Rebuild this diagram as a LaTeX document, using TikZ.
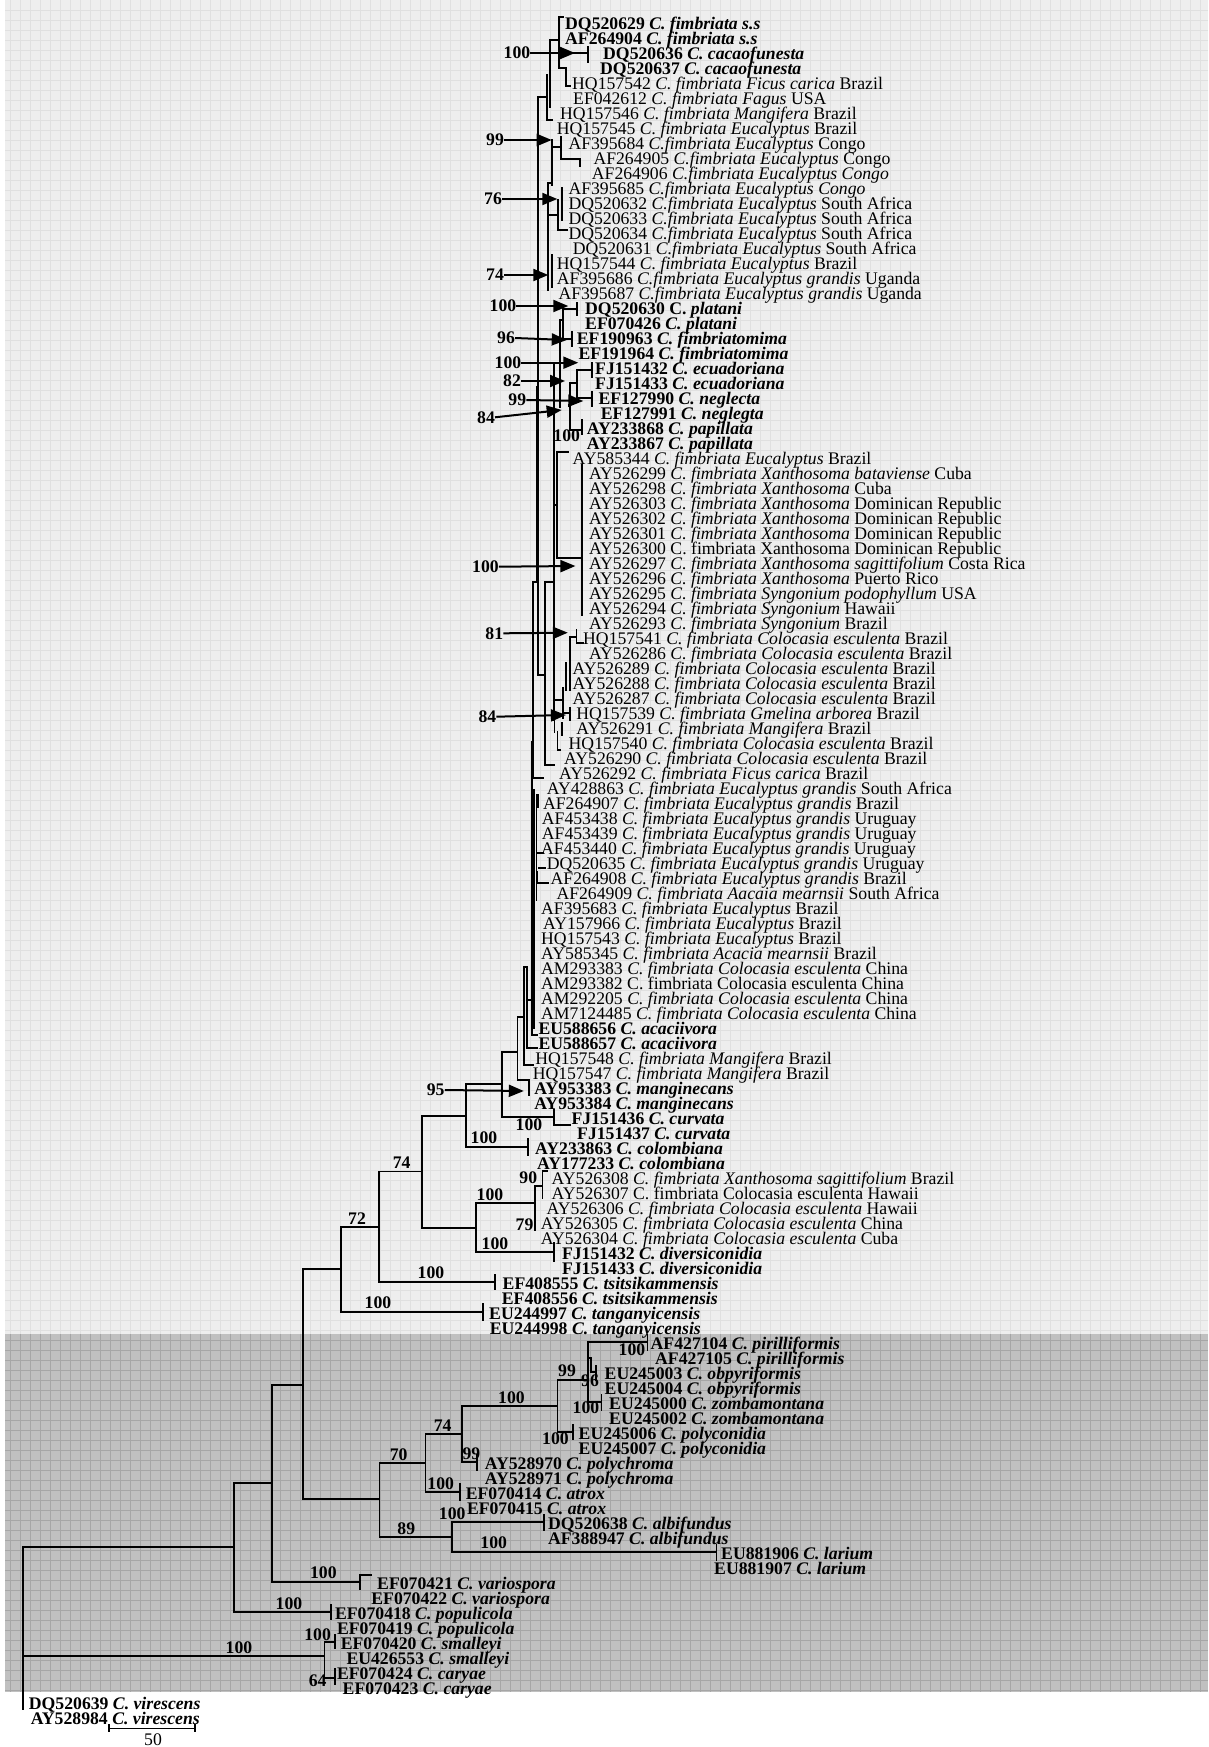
\documentclass[tikz,border=0pt]{standalone}
\usepackage{fontspec}
\setmainfont{Liberation Serif}
\usetikzlibrary{arrows.meta}

\definecolor{lightbg}{RGB}{238,238,238}
\definecolor{lightgrid}{RGB}{224,224,224}
\definecolor{darkbg}{RGB}{192,192,192}
\definecolor{darkgrid}{RGB}{166,166,166}

\newcommand{\tf}{\fontsize{17.7}{18}\selectfont}
\newcommand{\tipr}[3]{\node[leaf] (r#1) at (#2,{23.4+15*#1}) {#3};}
\newcommand{\tipb}[3]{\node[leaf,font={\tf\bfseries}] (r#1) at (#2,{23.4+15*#1}) {#3};}

\tikzset{
  leaf/.style={anchor=west, inner sep=0pt, text height=11.7pt, text depth=0pt, font=\tf},
  bs/.style={inner sep=0pt, text height=11.7pt, text depth=0pt, font={\tf\bfseries}},
  br/.style={line width=1.7pt, line cap=rect},
  arr/.style={line width=2pt, -{Triangle[length=15pt,width=12pt]}},
  lgrid/.style={draw=lightgrid, line width=0.6pt},
  dgrid/.style={draw=darkgrid, line width=0.6pt}
}

\begin{document}
\begin{tikzpicture}[x=1pt, y=-1pt]
\useasboundingbox (0,0) rectangle (1208,1747);

% background panels
\fill[lightbg] (5,0) rectangle (1208,1334);
\foreach \gx in {10,20,...,1200} \draw[lgrid] (\gx,0) -- (\gx,1334);
\foreach \gy in {10,20,...,1330} \draw[lgrid] (5,\gy) -- (1208,\gy);
\fill[darkbg] (5,1334) rectangle (1208,1692);
\foreach \gx in {10,20,...,1200} \draw[dgrid] (\gx,1334) -- (\gx,1692);
\foreach \gy in {1340,1350,...,1690} \draw[dgrid] (5,\gy) -- (1208,\gy);

% backbone
\draw[br] (23,1547.3)--(23,1709) (23,1547.3)--(234,1547.3) (23,1656)--(324.5,1656);
\draw[br] (234,1483.3)--(234,1611.7) (234,1483.3)--(272.3,1483.3) (234,1611.7)--(331,1611.7);
\draw[br] (272.3,1385)--(272.3,1581.7) (272.3,1385)--(302.7,1385) (272.3,1581.7)--(359.7,1581.7);
\draw[br] (302.7,1269)--(302.7,1499) (302.7,1269)--(340.7,1269) (302.7,1499)--(379.5,1499);
\draw[br] (340.7,1227)--(340.7,1312) (340.7,1227)--(379.3,1227) (340.7,1312)--(483.3,1312);
\draw[br] (379.3,1171.5)--(379.3,1282) (379.3,1171.5)--(422.3,1171.5) (379.3,1282)--(495,1282);
\draw[br] (422.3,1116)--(422.3,1228) (422.3,1116)--(466,1116) (422.3,1228)--(475.7,1228);
\draw[br] (475.7,1203)--(475.7,1252) (475.7,1203)--(535,1203) (475.7,1252)--(554,1252);
\draw[br] (535,1186)--(535,1230) (535,1186)--(542.6,1186) (542.6,1171)--(542.6,1198) (542.6,1171)--(547,1171);
\draw[br] (466,1084)--(466,1147) (466,1084)--(501.7,1084) (466,1147)--(528.3,1147);
\draw[br] (501.7,1051.7)--(501.7,1117.3) (501.7,1051.7)--(517.5,1051.7) (501.7,1117.3)--(554,1117.3)
  (554,1110)--(554,1125)--(570,1125);
\draw[br] (517.5,1016.7)--(517.5,1080)--(529,1080) (517.5,1016.7)--(524,1016.7);
\draw[br] (483.3,1304)--(483.3,1320) (495,1275)--(495,1289) (554,1243)--(554,1261)
  (528.3,1139)--(528.3,1155) (529,1080)--(529,1095);

% outgroup clades
\draw[br] (331,1605)--(331,1619) (359.7,1575)--(359.7,1589) (359.7,1575)--(371,1575);
\draw[br] (324.5,1641.7)--(324.5,1678.3) (324.5,1641.7)--(335,1641.7) (335,1635)--(335,1648.3)
  (324.5,1678.3)--(335,1678.3) (335,1669)--(335,1684);
\draw[br] (379.5,1463.3)--(379.5,1536.7) (379.5,1463.3)--(425.4,1463.3) (379.5,1536.7)--(452.2,1536.7);
\draw[br] (425.4,1434.3)--(425.4,1491.7) (425.4,1434.3)--(461.8,1434.3) (425.4,1491.7)--(459.9,1491.7)
  (459.9,1484)--(459.9,1500);
\draw[br] (461.8,1405.7)--(461.8,1461.7) (461.8,1405.7)--(557.5,1405.7) (461.8,1461.7)--(477,1461.7)
  (477,1455)--(477,1470);
\draw[br] (557.5,1380)--(557.5,1431.7) (557.5,1380)--(588,1380) (557.5,1431.7)--(572.8,1431.7)
  (572.8,1425)--(572.8,1439);
\draw[br] (588,1341.7)--(588,1401.7) (588,1341.7)--(647.4,1341.7) (647.4,1335)--(647.4,1350)
  (588,1401.7)--(601.5,1401.7) (601.5,1395)--(601.5,1410)
  (591,1358)--(591,1372) (588,1358)--(591,1358) (591,1372)--(596,1372) (596,1366)--(596,1380);
\draw[br] (452.2,1521.7)--(452.2,1551.7) (452.2,1521.7)--(544,1521.7) (544,1515)--(544,1530)
  (452.2,1551.7)--(716.6,1551.7) (716.6,1545)--(716.6,1560);

% fimbriata complex
\draw[br] (538.3,96.7)--(538.3,675)--(545,675) (536.7,386.7)--(536.7,581.7) (533.3,581.7)--(536.7,581.7)
  (533.3,581.7)--(533.3,778.3)--(542.9,778.3) (531.7,741.7)--(533.3,741.7)
  (531.7,741.7)--(531.7,1035)--(537,1035) (534,790)--(534,1028) (536.4,795)--(536.4,900)
  (524,966.7)--(524,1065)--(533.3,1065) (524,966.7)--(526.7,966.7)
  (526.7,966.7)--(526.7,1048.3)--(537.2,1048.3) (526.7,1000)--(531.7,1000);
\draw[br] (537.9,795)--(537.9,806.7) (537,853.3)--(543,853.3) (539,868.3)--(544.8,868.3)
  (536.7,871.7)--(536.7,883.3)--(548.6,883.3);
\draw[br] (559.3,16.7)--(559.3,68.3) (559.3,16.7)--(563,16.7) (550,40)--(559.3,40)
  (559.3,53.3)--(588.3,53.3) (588.3,47)--(588.3,62)
  (559.3,68.3)--(565.7,68.3)--(565.7,86)--(570,86)
  (550,40)--(550,106.7) (547,75)--(547,120)--(552,120) (538.3,96.7)--(547,96.7);
\draw[br] (551.7,140)--(551.7,185) (551.7,146.7)--(560.7,146.7)
  (560.7,136.7)--(560.7,159.3)--(580,159.3)--(580,166)
  (548.3,183)--(548.3,290) (548.3,183)--(551.7,183)
  (561.7,188)--(561.7,220) (558.3,200)--(558.3,230)--(566.7,230) (548.3,215)--(558.3,215)
  (551.7,255)--(551.7,287);
\draw[br] (560,320)--(560,406.7) (560,320)--(563.3,320)
  (563.3,306)--(563.3,340) (563.3,309.3)--(576.7,309.3) (576.7,303)--(576.7,315)
  (563.3,339)--(571.7,339) (571.7,331.7)--(571.7,346)
  (576.7,370)--(576.7,398.3) (576.7,370)--(591.7,370) (591.7,363)--(591.7,377)
  (576.7,398.3)--(591.7,398.3) (591.7,392)--(591.7,406)
  (570,383.3)--(570,430) (570,383.3)--(576.7,383.3)
  (570,430)--(581.7,430) (581.7,420)--(581.7,434) (538.3,363)--(554,363);
\draw[br] (554,363)--(554,720) (554,505)--(557.3,505)
  (557.3,451.7)--(557.3,558.3) (557.3,451.7)--(567.8,451.7) (557.3,558.3)--(582.3,558.3)
  (582.3,465)--(582.3,615)
  (545,581.7)--(545,765)--(554.4,765) (545,581.7)--(554,581.7);
\draw[br] (576.6,630)--(576.6,643.3)--(583,643.3) (569.7,636.7)--(569.7,690) (569.7,636.7)--(576.6,636.7)
  (565.9,663.3)--(565.9,690) (563.2,688)--(563.2,718.3) (554,700)--(563.2,700)
  (569.7,708.3)--(569.7,720) (563.2,713)--(569.7,713)
  (562,723.3)--(562,735) (554.4,720)--(554.4,731.7) (557.4,731.7)--(557.4,750)--(560,750);

% bootstrap values
\node[bs] (s1) at (517,53) {100};
\node[bs] (s2) at (495,140) {99};
\node[bs] (s3) at (493,199) {76};
\node[bs] (s4) at (495,275) {74};
\node[bs] (s5) at (503,306) {100};
\node[bs] (s6) at (506,338) {96};
\node[bs] (s7) at (508,362.7) {100};
\node[bs] (s8) at (512,381) {82};
\node[bs] (s9) at (517.3,400) {99};
\node[bs] (s10) at (486,417.3) {84};
\node[bs] (s11) at (485.5,566.7) {100};
\node[bs] (s12) at (494.3,633.3) {81};
\node[bs] (s13) at (487.4,716.7) {84};
\node[bs] (s14) at (435.7,1090) {95};
\draw[arr] (s1.east) -- (575,53);
\draw[arr] (s2.east) -- (551.7,140);
\draw[arr] (s3.east) -- (557.3,199);
\draw[arr] (s4.east) -- (548.3,275);
\draw[arr] (s5.east) -- (568.3,306);
\draw[arr] (s6.east) -- (566.7,340);
\draw[arr] (s7.east) -- (578.3,362.7);
\draw[arr] (s8.east) -- (565,381);
\draw[arr] (s9.east) -- (583.3,401);
\draw[arr] (s10.east) -- (561.7,410);
\draw[arr] (s11.east) -- (575.4,566);
\draw[arr] (s12.east) -- (567.8,632.7);
\draw[arr] (s13.east) -- (565.9,715);
\draw[arr] (s14.east) -- (523.8,1091);

\node[bs] (s15) at (566.7,436) {100};
\node[bs] (s16) at (529,1125) {100};
\node[bs] (s17) at (484,1138) {100};
\node[bs] (s18) at (401.7,1163) {74};
\node[bs] (s19) at (357,1219) {72};
\node[bs] (s20) at (528.3,1178) {90};
\node[bs] (s21) at (490,1195) {100};
\node[bs] (s22) at (524.5,1225) {79};
\node[bs] (s23) at (495,1244) {100};
\node[bs] (s24) at (431,1273) {100};
\node[bs] (s25) at (378,1303) {100};
\node[bs] (s26) at (632,1350) {100};
\node[bs] (s27) at (567,1370.7) {99};
\node[bs] (s28) at (590,1381) {96};
\node[bs] (s29) at (511.5,1397.3) {100};
\node[bs] (s30) at (586,1408) {100};
\node[bs] (s31) at (442.6,1426) {74};
\node[bs] (s32) at (555.5,1438.3) {100};
\node[bs] (s33) at (471.4,1453.3) {99};
\node[bs] (s34) at (398.6,1455) {70};
\node[bs] (s35) at (440.7,1483.3) {100};
\node[bs] (s36) at (452.2,1513.3) {100};
\node[bs] (s37) at (406.3,1528.3) {89};
\node[bs] (s38) at (493.7,1543) {100};
\node[bs] (s39) at (323.4,1572.7) {100};
\node[bs] (s40) at (289,1604) {100};
\node[bs] (s41) at (317.6,1635) {100};
\node[bs] (s42) at (239,1647.5) {100};
\node[bs] (s43) at (317.6,1681) {64};

% scale bar
\draw[line width=1.5pt] (109,1724)--(109,1732) (109,1728.3)--(195.2,1728.3) (195.2,1724)--(195.2,1732);
\node[leaf, anchor=center] (scl) at (153,1740) {50};

% taxa
\tipb{0}{565}{DQ520629 \textit{C. fimbriata s.s}}
\tipb{1}{565}{AF264904 \textit{C. fimbriata s.s}}
\tipb{2}{603}{DQ520636 \textit{C. cacaofunesta}}
\tipb{3}{600}{DQ520637 \textit{C. cacaofunesta}}
\tipr{4}{572}{HQ157542 \textit{C. fimbriata Ficus carica} Brazil}
\tipr{5}{573}{EF042612 \textit{C. fimbriata Fagus} USA}
\tipr{6}{560}{HQ157546 \textit{C. fimbriata Mangifera} Brazil}
\tipr{7}{556.7}{HQ157545 \textit{C. fimbriata Eucalyptus} Brazil}
\tipr{8}{568.3}{AF395684 \textit{C.fimbriata Eucalyptus} Congo}
\tipr{9}{593.3}{AF264905 \textit{C.fimbriata Eucalyptus} Congo}
\tipr{10}{591.7}{AF264906 \textit{C.fimbriata Eucalyptus Congo}}
\tipr{11}{568.3}{AF395685 \textit{C.fimbriata Eucalyptus Congo}}
\tipr{12}{568.3}{DQ520632 \textit{C.fimbriata Eucalyptus} South Africa}
\tipr{13}{568.3}{DQ520633 \textit{C.fimbriata Eucalyptus} South Africa}
\tipr{14}{568.3}{DQ520634 \textit{C.fimbriata Eucalyptus} South Africa}
\tipr{15}{572.7}{DQ520631 \textit{C.fimbriata Eucalyptus} South Africa}
\tipr{16}{556.7}{HQ157544 \textit{C. fimbriata Eucalyptus} Brazil}
\tipr{17}{556.7}{AF395686 \textit{C.fimbriata Eucalyptus grandis} Uganda}
\tipr{18}{558.3}{AF395687 \textit{C.fimbriata Eucalyptus grandis} Uganda}
\tipb{19}{585}{DQ520630 C. \textit{platani}}
\tipb{20}{585}{EF070426 \textit{C. platani}}
\tipb{21}{576.7}{EF190963 \textit{C. fimbriatomima}}
\tipb{22}{578.3}{EF191964 \textit{C. fimbriatomima}}
\tipb{23}{595}{FJ151432 \textit{C. ecuadoriana}}
\tipb{24}{595}{FJ151433 \textit{C. ecuadoriana}}
\tipb{25}{598.3}{EF127990 \textit{C. neglecta}}
\tipb{26}{600.7}{EF127991 \textit{C. neglegta}}
\tipb{27}{586.7}{AY233868 \textit{C. papillata}}
\tipb{28}{586.7}{AY233867 \textit{C. papillata}}
\tipr{29}{572.4}{AY585344 \textit{C. fimbriata Eucalyptus} Brazil}
\tipr{30}{588.8}{AY526299 \textit{C. fimbriata Xanthosoma bataviense} Cuba}
\tipr{31}{588.8}{AY526298 \textit{C. fimbriata Xanthosoma} Cuba}
\tipr{32}{588.8}{AY526303 \textit{C. fimbriata Xanthosoma} Dominican Republic}
\tipr{33}{588.8}{AY526302 \textit{C. fimbriata Xanthosoma} Dominican Republic}
\tipr{34}{588.8}{AY526301 \textit{C. fimbriata Xanthosoma} Dominican Republic}
\tipr{35}{588.8}{AY526300 C. fimbriata Xanthosoma Dominican Republic}
\tipr{36}{588.8}{AY526297 \textit{C. fimbriata Xanthosoma sagittifolium} Costa Rica}
\tipr{37}{588.8}{AY526296 \textit{C. fimbriata Xanthosoma} Puerto Rico}
\tipr{38}{588.8}{AY526295 \textit{C. fimbriata Syngonium podophyllum} USA}
\tipr{39}{588.8}{AY526294 \textit{C. fimbriata Syngonium} Hawaii}
\tipr{40}{588.8}{AY526293 \textit{C. fimbriata Syngonium} Brazil}
\tipr{41}{583}{HQ157541 \textit{C. fimbriata Colocasia esculenta} Brazil}
\tipr{42}{588.8}{AY526286 \textit{C. fimbriata Colocasia esculenta} Brazil}
\tipr{43}{572.4}{AY526289 \textit{C. fimbriata Colocasia esculenta} Brazil}
\tipr{44}{572.4}{AY526288 \textit{C. fimbriata Colocasia esculenta} Brazil}
\tipr{45}{572.4}{AY526287 \textit{C. fimbriata Colocasia esculenta} Brazil}
\tipr{46}{576.2}{HQ157539 \textit{C. fimbriata Gmelina arborea} Brazil}
\tipr{47}{576.2}{AY526291 \textit{C. fimbriata Mangifera} Brazil}
\tipr{48}{568.5}{HQ157540 \textit{C. fimbriata Colocasia esculenta} Brazil}
\tipr{49}{564}{AY526290 \textit{C. fimbriata Colocasia esculenta} Brazil}
\tipr{50}{559}{AY526292 \textit{C. fimbriata Ficus carica} Brazil}
\tipr{51}{546.7}{AY428863 \textit{C. fimbriata Eucalyptus grandis} South Africa}
\tipr{52}{542.9}{AF264907 \textit{C. fimbriata Eucalyptus grandis} Brazil}
\tipr{53}{541.7}{AF453438 \textit{C. fimbriata Eucalyptus grandis} Uruguay}
\tipr{54}{541.7}{AF453439 \textit{C. fimbriata Eucalyptus grandis} Uruguay}
\tipr{55}{541}{AF453440 \textit{C. fimbriata Eucalyptus grandis} Uruguay}
\tipr{56}{546.7}{DQ520635 \textit{C. fimbriata Eucalyptus grandis} Uruguay}
\tipr{57}{550.5}{AF264908 \textit{C. fimbriata Eucalyptus grandis} Brazil}
\tipr{58}{556.3}{AF264909 \textit{C. fimbriata Aacaia mearnsii} South Africa}
\tipr{59}{541}{AF395683 \textit{C. fimbriata Eucalyptus} Brazil}
\tipr{60}{542.9}{AY157966 \textit{C. fimbriata Eucalyptus} Brazil}
\tipr{61}{541}{HQ157543 \textit{C. fimbriata Eucalyptus} Brazil}
\tipr{62}{541}{AY585345 \textit{C. fimbriata Acacia mearnsii} Brazil}
\tipr{63}{541}{AM293383 \textit{C. fimbriata Colocasia esculenta} China}
\tipr{64}{541}{AM293382 C. fimbriata Colocasia esculenta China}
\tipr{65}{541}{AM292205 \textit{C. fimbriata Colocasia esculenta} China}
\tipr{66}{541}{AM7124485 \textit{C. fimbriata Colocasia esculenta} China}
\tipb{67}{538.3}{EU588656 \textit{C. acaciivora}}
\tipb{68}{538.3}{EU588657 \textit{C. acaciivora}}
\tipr{69}{535.2}{HQ157548 \textit{C. fimbriata Mangifera} Brazil}
\tipr{70}{532.6}{HQ157547 \textit{C. fimbriata Mangifera} Brazil}
\tipb{71}{534.1}{AY953383 \textit{C. manginecans}}
\tipb{72}{534.1}{AY953384 \textit{C. manginecans}}
\tipb{73}{571.4}{FJ151436 \textit{C. curvata}}
\tipb{74}{577}{FJ151437 \textit{C. curvata}}
\tipb{75}{535}{AY233863 \textit{C. colombiana}}
\tipb{76}{537}{AY177233 \textit{C. colombiana}}
\tipr{77}{551.5}{AY526308 \textit{C. fimbriata Xanthosoma sagittifolium} Brazil}
\tipr{78}{551.5}{AY526307 C. fimbriata Colocasia esculenta Hawaii}
\tipr{79}{546.5}{AY526306 \textit{C. fimbriata Colocasia esculenta} Hawaii}
\tipr{80}{540.7}{AY526305 \textit{C. fimbriata Colocasia esculenta} China}
\tipr{81}{540.7}{AY526304 \textit{C. fimbriata Colocasia esculenta} Cuba}
\tipb{82}{561.8}{FJ151432 \textit{C. diversiconidia}}
\tipb{83}{561.8}{FJ151433 \textit{C. diversiconidia}}
\tipb{84}{502.5}{EF408555 \textit{C. tsitsikammensis}}
\tipb{85}{501.7}{EF408556 \textit{C. tsitsikammensis}}
\tipb{86}{489}{EU244997 \textit{C. tanganyicensis}}
\tipb{87}{489.7}{EU244998 \textit{C. tanganyicensis}}
\tipb{88}{650.5}{AF427104 \textit{C. pirilliformis}}
\tipb{89}{655}{AF427105 \textit{C. pirilliformis}}
\tipb{90}{604.5}{EU245003 \textit{C. obpyriformis}}
\tipb{91}{604.5}{EU245004 \textit{C. obpyriformis}}
\tipb{92}{609}{EU245000 \textit{C. zombamontana}}
\tipb{93}{609}{EU245002 \textit{C. zombamontana}}
\tipb{94}{578.5}{EU245006 \textit{C. polyconidia}}
\tipb{95}{578.5}{EU245007 \textit{C. polyconidia}}
\tipb{96}{484.7}{AY528970 \textit{C. polychroma}}
\tipb{97}{484.7}{AY528971 \textit{C. polychroma}}
\tipb{98}{465.6}{EF070414 \textit{C. atrox}}
\tipb{99}{466.8}{EF070415 \textit{C. atrox}}
\tipb{100}{547.9}{DQ520638 \textit{C. albifundus}}
\tipb{101}{547.9}{AF388947 \textit{C. albifundus}}
\tipb{102}{721}{EU881906 \textit{C. larium}}
\tipb{103}{714}{EU881907 \textit{C. larium}}
\tipb{104}{377}{EF070421 \textit{C. variospora}}
\tipb{105}{371.2}{EF070422 \textit{C. variospora}}
\tipb{106}{334.9}{EF070418 \textit{C. populicola}}
\tipb{107}{336.8}{EF070419 \textit{C. populicola}}
\tipb{108}{340.6}{EF070420 \textit{C. smalleyi}}
\tipb{109}{346.3}{EU426553 \textit{C. smalleyi}}
\tipb{110}{336.8}{EF070424 \textit{C. caryae}}
\tipb{111}{342.5}{EF070423 \textit{C. caryae}}
\tipb{112}{28.7}{DQ520639 \textit{C. virescens}}
\tipb{113}{30.6}{AY528984 \textit{C. virescens}}
\end{tikzpicture}
\end{document}
